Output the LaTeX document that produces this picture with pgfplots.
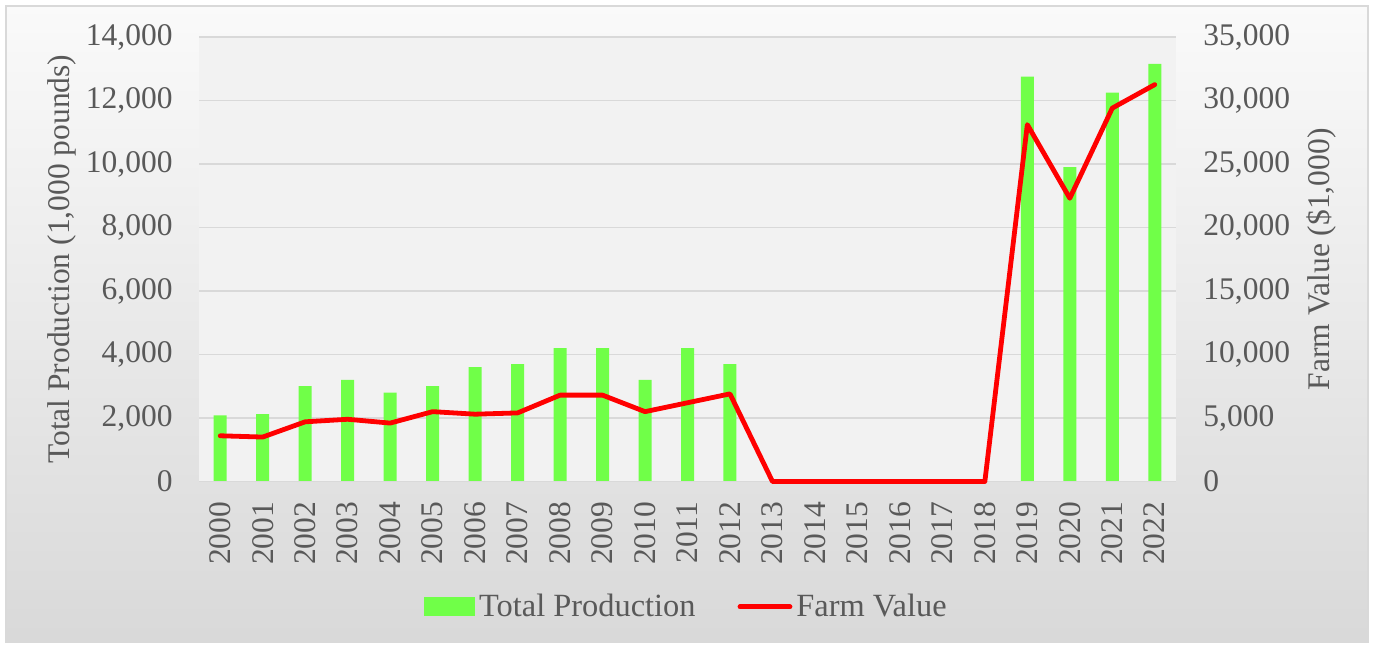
\documentclass[border=0pt]{standalone}
\usepackage{pgfplots}
\pgfplotsset{compat=1.18}
\usepackage{fontspec}
\setmainfont{Liberation Serif}
\definecolor{barg}{RGB}{112,255,72}
\definecolor{txt}{RGB}{89,89,89}
\definecolor{gridc}{RGB}{217,217,217}
\definecolor{plotbg}{RGB}{242,242,242}
\newcommand\chartfont{\fontsize{15.75}{18}\selectfont}
\newcommand\legfont{\fontsize{16.2}{18}\selectfont}
\begin{document}
\begin{tikzpicture}
\path[use as bounding box] (0,0) rectangle (687pt,324pt);
\fill[white] (0,0) rectangle (687pt,324pt);
\shade[top color=black!2, bottom color=black!15] (3pt,3pt) rectangle (684pt,321pt);
\draw[gridc, line width=0.75pt] (3pt,3pt) rectangle (684pt,321pt);
\pgfplotsset{common/.style={
  at={(99.5pt,83.25pt)}, anchor=south west, scale only axis,
  width=488.5pt, height=222.25pt,
  xmin=1999.5, xmax=2022.5, ymin=0,
  scaled ticks=false, major tick length=0pt,
  axis line style={draw=none},
  tick label style={font=\chartfont, text=txt, inner sep=0pt},
  /pgf/number format/1000 sep={,},
  /pgf/number format/assume math mode=true}}
\begin{axis}[common,
  ymax=14000, ytick={0,2000,...,14000},
  yticklabel shift=13pt,
  xtick={2000,...,2022},
  xticklabel style={rotate=90, anchor=east, /pgf/number format/1000 sep={}},
  xticklabel shift=10pt,
  axis background/.style={fill=plotbg},
  ymajorgrids, grid style={gridc, line width=0.75pt},
  ylabel={Total Production (1,000 pounds)},
  every axis y label/.style={at={(rel axis cs:0,0.5)}, xshift=-68.6pt, rotate=90, anchor=center, font=\chartfont, text=txt},
]
\addplot[ybar, bar width=6.5pt, fill=barg, draw=none] coordinates {
(2000,2080) (2001,2120) (2002,3000) (2003,3200) (2004,2800) (2005,3000)
(2006,3600) (2007,3700) (2008,4200) (2009,4200) (2010,3200) (2011,4200)
(2012,3700) (2019,12750) (2020,9900) (2021,12250) (2022,13150)};
\draw[gridc, line width=0.75pt] (rel axis cs:0,0) -- (rel axis cs:1,0);
\end{axis}
\begin{axis}[common,
  ymax=35000, ytick={0,5000,...,35000},
  yticklabel pos=right,
  yticklabel shift=13.5pt,
  hide x axis, clip=false,
  ylabel={Farm Value (\$1,000)},
  every axis y label/.style={at={(rel axis cs:1,0.5)}, xshift=72.9pt, rotate=90, anchor=center, font=\chartfont, text=txt},
  legend style={at={(0.5,-0.282)}, anchor=center, draw=none, fill=none,
    legend columns=2, font=\legfont, text=txt,
    /tikz/every even column/.append style={column sep=19pt}},
]
\addlegendimage{legend image code/.code={\fill[barg] (0pt,-4.5pt) rectangle (25pt,4.5pt);}}
\addlegendentry{Total Production}
\addplot[red, line width=2.4pt, line join=round, line cap=round,
  legend image code/.code={\draw[red, line width=2.4pt, line cap=round] (0pt,0pt) -- (25pt,0pt);}]
 coordinates {
(2000,3600) (2001,3500) (2002,4700) (2003,4900) (2004,4600) (2005,5500)
(2006,5300) (2007,5400) (2008,6800) (2009,6800) (2010,5500) (2011,6200)
(2012,6900) (2013,0) (2014,0) (2015,0) (2016,0) (2017,0) (2018,0)
(2019,28100) (2020,22300) (2021,29400) (2022,31250)};
\addlegendentry{Farm Value}
\end{axis}
\end{tikzpicture}
\end{document}
